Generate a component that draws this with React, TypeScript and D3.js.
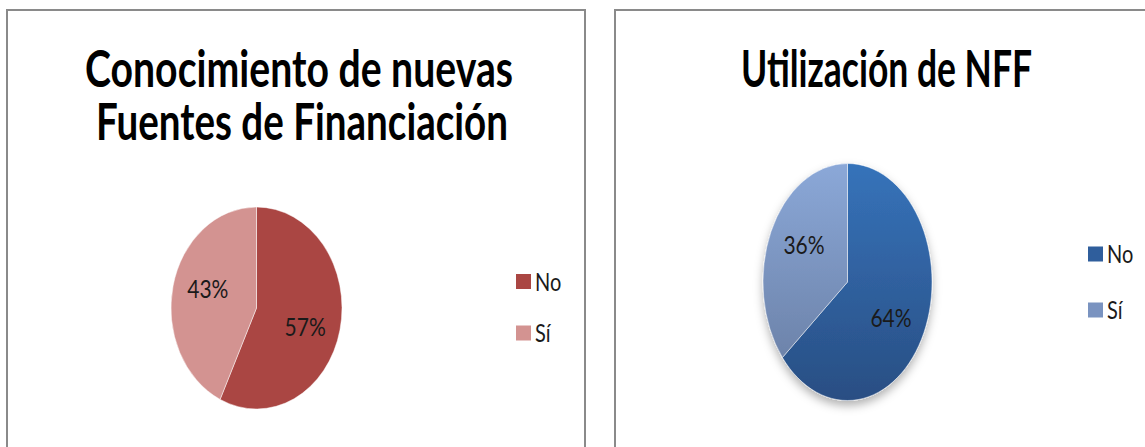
import React from "react";
import * as d3 from "d3";

// chart data
const categories = ["No", "Sí"];
const conocimientoValues = [57, 43];
const utilizacionValues = [64, 36];
const conocimientoTitle = ["Conocimiento de nuevas", "Fuentes de Financiación"];
const utilizacionTitle = ["Utilización de NFF"];

const W = 1145;
const H = 447;
const FONT = "Lato, 'Open Sans', sans-serif";

type PanelCfg = {
  values: number[];
  title: string[];
  titleX: number[];
  titleLen: number[];
  cx: number;
  cy: number;
  rx: number;
  ry: number;
  fills: string[];
  legendX: number;
  legendY: number[];
  gradient?: string[][];
  shadow?: boolean;
  id: string;
};

const Panel = ({ cfg }: { cfg: PanelCfg }) => {
  const pie = d3.pie<number>().sort(null).value((d) => d)(cfg.values);
  const arc = d3.arc<d3.PieArcDatum<number>>().innerRadius(0).outerRadius(cfg.rx);
  const labelArc = d3.arc<any>().innerRadius(cfg.rx * 0.6).outerRadius(cfg.rx * 0.6);
  const sy = cfg.ry / cfg.rx;
  const fmt = d3.format(".0%");
  const total = d3.sum(cfg.values);

  return (
    <g>
      <defs>
        {/* gradient is in the slice's own (unscaled) space */}
        {cfg.gradient &&
          cfg.gradient.map((g, i) => (
            <linearGradient
              key={i}
              id={`${cfg.id}-g${i}`}
              gradientUnits="userSpaceOnUse"
              x1={0}
              x2={0}
              y1={-cfg.rx}
              y2={cfg.rx}
            >
              <stop offset="0%" stopColor={g[0]} />
              <stop offset="100%" stopColor={g[1]} />
            </linearGradient>
          ))}
        {cfg.shadow && (
          <filter id={`${cfg.id}-sh`} x="-30%" y="-30%" width="160%" height="160%">
            <feDropShadow dx={0} dy={5} stdDeviation={5} floodColor="#000" floodOpacity={0.3} />
          </filter>
        )}
      </defs>

      {cfg.title.map((t, i) => (
        <text
          key={t}
          transform={`translate(${cfg.titleX[i]},${87 + i * 53}) scale(1,1.3)`}
          textAnchor="middle"
          fontFamily={FONT}
          fontWeight="bold"
          fontSize={40}
          textLength={cfg.titleLen[i]}
          lengthAdjust="spacingAndGlyphs"
          fill="#000"
        >
          {t}
        </text>
      ))}

      <g filter={cfg.shadow ? `url(#${cfg.id}-sh)` : undefined}>
        <g transform={`translate(${cfg.cx},${cfg.cy}) scale(1,${sy})`}>
          {pie.map((d, i) => (
            <path
              key={i}
              d={arc(d) as string}
              fill={cfg.gradient ? `url(#${cfg.id}-g${i})` : cfg.fills[i]}
              stroke="#fff"
              strokeOpacity={0.6}
              strokeWidth={0.8}
              vectorEffect="non-scaling-stroke"
            />
          ))}
        </g>
      </g>

      {pie.map((d, i) => {
        const shift = 0.1;
        const [lx, ly] = labelArc.centroid({ ...d, startAngle: d.startAngle + shift, endAngle: d.endAngle + shift });
        return (
          <text
            key={i}
            transform={`translate(${cfg.cx + lx},${cfg.cy + ly * sy}) scale(1,1.2)`}
            textAnchor="middle"
            dy="0.35em"
            fontFamily={FONT}
            fontSize={21}
            fill="#1a1a1a"
          >
            {fmt(d.value / total)}
          </text>
        );
      })}

      {categories.map((c, i) => (
        <g key={c}>
          <rect x={cfg.legendX} y={cfg.legendY[i] - 7.5} width={15} height={15} fill={cfg.fills[i]} />
          <text
            transform={`translate(${cfg.legendX + 19},${cfg.legendY[i]}) scale(1,1.25)`}
            dy="0.36em"
            fontFamily={FONT}
            fontSize={20}
            fill="#1a1a1a"
          >
            {c}
          </text>
        </g>
      ))}
    </g>
  );
};

const leftCfg: PanelCfg = {
  id: "left",
  values: conocimientoValues,
  title: conocimientoTitle,
  titleX: [299, 302],
  titleLen: [428, 412],
  cx: 256.5,
  cy: 308,
  rx: 85.5,
  ry: 101,
  fills: ["#AA4643", "#D39391"],
  legendX: 516,
  legendY: [281.5, 333],
};

const rightCfg: PanelCfg = {
  id: "right",
  values: utilizacionValues,
  title: utilizacionTitle,
  titleX: [886.5],
  titleLen: [291],
  cx: 847.5,
  cy: 282,
  rx: 84.5,
  ry: 118.5,
  fills: ["#2F5E9C", "#7A93C0"],
  gradient: [
    ["#3673BA", "#294E83"],
    ["#8BA8D8", "#667BA0"],
  ],
  shadow: true,
  legendX: 1088,
  legendY: [254, 310],
};

export default function App() {
  return (
    <svg
      width={W}
      height={H}
      style={{ position: "fixed", left: 0, top: 0, display: "block", background: "#fff" }}
    >
      <rect x={0} y={0} width={W} height={H} fill="#fff" />
      <rect x={7} y={10} width={578} height={460} fill="#fff" stroke="#8a8a8a" strokeWidth={2} />
      <rect x={615} y={10} width={560} height={460} fill="#fff" stroke="#8a8a8a" strokeWidth={2} />
      <Panel cfg={leftCfg} />
      <Panel cfg={rightCfg} />
    </svg>
  );
}
